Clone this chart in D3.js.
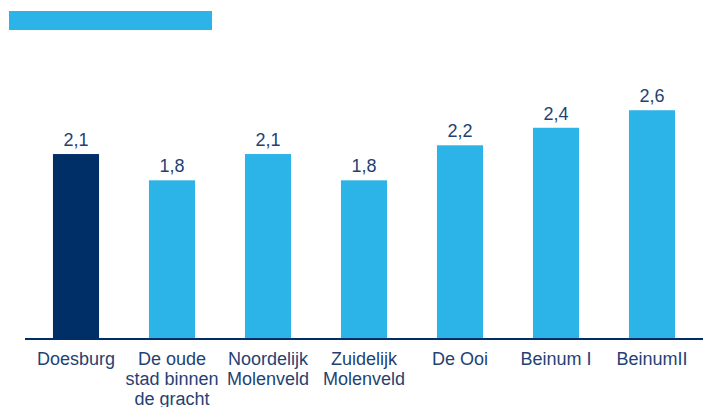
<!DOCTYPE html>
<html><head><meta charset="utf-8">
<script src="https://cdn.jsdelivr.net/npm/d3@7"></script>
<style>body{margin:0;background:#fff}svg{display:block}text{font-family:"Liberation Sans",Arial,sans-serif}</style>
</head><body>
<script>
const categories = ["Doesburg", "De oude\nstad binnen\nde gracht", "Noordelijk\nMolenveld", "Zuidelijk\nMolenveld", "De Ooi", "Beinum I", "BeinumII"];
const values = [2.1, 1.8, 2.1, 1.8, 2.2, 2.4, 2.6];
const valueLabels = ["2,1", "1,8", "2,1", "1,8", "2,2", "2,4", "2,6"];

const W = 703, H = 407;
const svg = d3.select("body").append("svg").attr("width", W).attr("height", H);
const dark = "#002f67", blue = "#2cb3e7", txt = "#1f4273";

svg.append("rect").attr("x", 9).attr("y", 11).attr("width", 203).attr("height", 19).attr("fill", blue);

const x = d3.scaleBand().domain(categories).range([28, 700]).paddingInner(0.52).paddingOuter(0.26);
const y = d3.scaleLinear().domain([0, 3]).range([338, 75.2]);

svg.selectAll("rect.bar").data(values).enter().append("rect")
  .attr("class", "bar")
  .attr("x", (d, i) => x(categories[i]))
  .attr("width", x.bandwidth())
  .attr("y", d => y(d))
  .attr("height", d => y(0) - y(d))
  .attr("fill", (d, i) => i === 0 ? dark : blue);

svg.selectAll("text.val").data(values).enter().append("text")
  .attr("class", "val")
  .attr("x", (d, i) => x(categories[i]) + x.bandwidth() / 2)
  .attr("y", d => y(d) - 8)
  .attr("text-anchor", "middle")
  .attr("font-size", 18).attr("fill", txt)
  .text((d, i) => valueLabels[i]);

svg.append("line").attr("x1", 25).attr("x2", 703).attr("y1", y(0) + 1).attr("y2", y(0) + 1)
  .attr("stroke", dark).attr("stroke-width", 2);

const lab = svg.selectAll("text.cat").data(categories).enter().append("text")
  .attr("class", "cat")
  .attr("x", d => x(d) + x.bandwidth() / 2)
  .attr("y", 365)
  .attr("text-anchor", "middle")
  .attr("font-size", 18).attr("fill", txt);
lab.each(function(d) {
  const t = d3.select(this);
  d.split("\n").forEach((s, j) => {
    t.append("tspan").attr("x", t.attr("x")).attr("y", 365 + j * 20).text(s);
  });
});
</script>
</body></html>
